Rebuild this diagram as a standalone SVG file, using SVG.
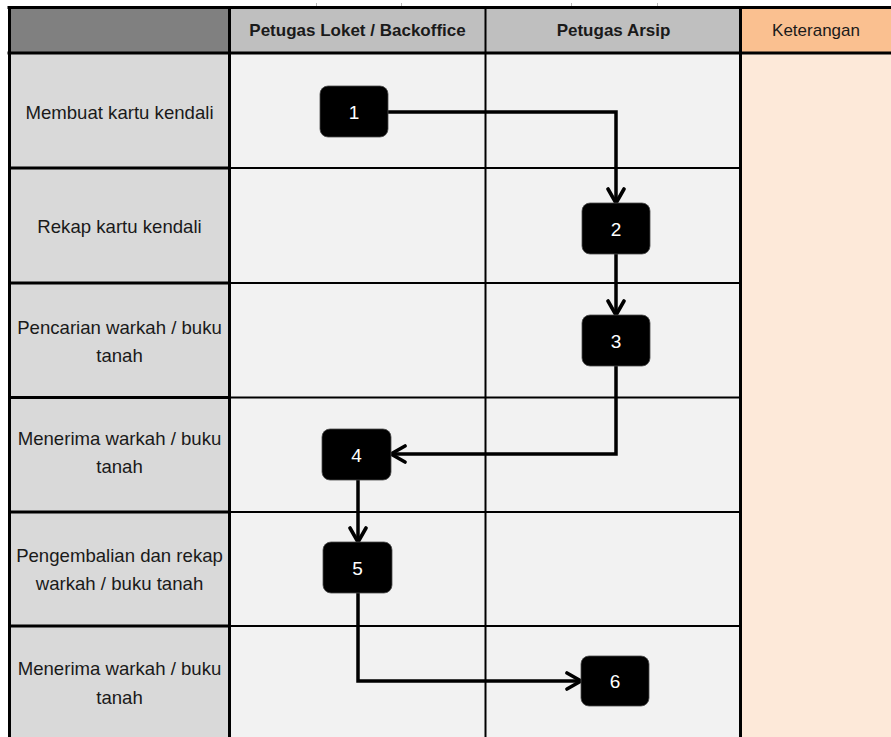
<svg xmlns="http://www.w3.org/2000/svg" width="891" height="737" viewBox="0 0 891 737">
  <style>
    .lbl { font-family: "Liberation Sans", Arial, sans-serif; font-size: 18.6px; fill: #1a1a1a; text-anchor: middle; }
    .hdr { font-family: "Liberation Sans", Arial, sans-serif; font-size: 17px; fill: #1a1a1a; text-anchor: middle; }
    .hdr-b { font-weight: bold; }
    .step rect { fill: #000; stroke: #4a4a4a; stroke-width: 0.8; }
    .step text { font-family: "Liberation Sans", Arial, sans-serif; font-size: 19px; fill: #fff; text-anchor: middle; }
    .thick { stroke: #000; stroke-width: 3; fill: none; }
    .thin { stroke: #000; stroke-width: 2; fill: none; }
    .tick { stroke: #bbb; stroke-width: 1; }
    .flow { stroke: #000; stroke-width: 3.5; fill: none; stroke-linejoin: miter; }
  </style>
  <defs>
    <marker id="chev" viewBox="0 0 20 20" refX="16" refY="10" markerWidth="20" markerHeight="20" markerUnits="userSpaceOnUse" orient="auto">
      <path d="M2,2 L16,10 L2,18" fill="none" stroke="#000" stroke-width="3.6" stroke-linecap="round" stroke-linejoin="miter"/>
    </marker>
  </defs>

  <rect width="891" height="737" fill="#fff"/>

  <!-- header row -->
  <g id="header">
    <rect x="9" y="7" width="221" height="46" fill="#808080"/>
    <rect x="230" y="7" width="256" height="46" fill="#bfbfbf"/>
    <rect x="486" y="7" width="255" height="46" fill="#bfbfbf"/>
    <rect x="741" y="7" width="150" height="46" fill="#fac090"/>
    <text class="hdr hdr-b" x="357.5" y="36">Petugas Loket / Backoffice</text>
    <text class="hdr hdr-b" x="613.5" y="36">Petugas Arsip</text>
    <text class="hdr" x="816" y="36" font-size="17.5">Keterangan</text>
  </g>

  <!-- body columns -->
  <g id="body">
    <rect x="9" y="53" width="221" height="684" fill="#d9d9d9"/>
    <rect x="230" y="53" width="511" height="684" fill="#f2f2f2"/>
    <rect x="741" y="53" width="150" height="684" fill="#fde9d9"/>
  </g>

  <!-- grid lines -->
  <g id="grid">
    <line class="tick" x1="316.5" y1="3" x2="316.5" y2="7"/>
    <line class="tick" x1="401.5" y1="3" x2="401.5" y2="7"/>
    <line class="tick" x1="571.5" y1="3" x2="571.5" y2="7"/>
    <line class="tick" x1="657.5" y1="3" x2="657.5" y2="7"/>

    <line class="thick" x1="7.5" y1="7.5" x2="891" y2="7.5"/>
    <line class="thick" x1="7.5" y1="53" x2="891" y2="53"/>
    <line class="thick" x1="9.5" y1="6" x2="9.5" y2="737"/>
    <line class="thick" x1="229.5" y1="6" x2="229.5" y2="737"/>
    <line class="thin" x1="485.5" y1="6" x2="485.5" y2="737"/>
    <line class="thick" x1="740.5" y1="6" x2="740.5" y2="737"/>

    <!-- row separators: heavy in the label column, light across the lanes -->
    <line class="thick" x1="9" y1="168" x2="230" y2="168"/>
    <line class="thin" x1="230" y1="168" x2="740" y2="168"/>
    <line class="thick" x1="9" y1="283" x2="230" y2="283"/>
    <line class="thin" x1="230" y1="283" x2="740" y2="283"/>
    <line class="thick" x1="9" y1="397.5" x2="230" y2="397.5"/>
    <line class="thin" x1="230" y1="397.5" x2="740" y2="397.5"/>
    <line class="thick" x1="9" y1="512" x2="230" y2="512"/>
    <line class="thin" x1="230" y1="512" x2="740" y2="512"/>
    <line class="thick" x1="9" y1="626" x2="230" y2="626"/>
    <line class="thin" x1="230" y1="626" x2="740" y2="626"/>
  </g>

  <!-- activity labels -->
  <g id="labels">
    <text class="lbl" x="119.5" y="119">Membuat kartu kendali</text>
    <text class="lbl" x="119.5" y="233">Rekap kartu kendali</text>
    <text class="lbl" x="119.5" y="334">Pencarian warkah / buku</text>
    <text class="lbl" x="119.5" y="362">tanah</text>
    <text class="lbl" x="119.5" y="445">Menerima warkah / buku</text>
    <text class="lbl" x="119.5" y="473">tanah</text>
    <text class="lbl" x="119.5" y="562">Pengembalian dan rekap</text>
    <text class="lbl" x="119.5" y="590">warkah / buku tanah</text>
    <text class="lbl" x="119.5" y="675">Menerima warkah / buku</text>
    <text class="lbl" x="119.5" y="704">tanah</text>
  </g>

  <!-- connectors -->
  <g id="connectors">
    <path class="flow" d="M388,112 H616 V203" marker-end="url(#chev)"/>
    <path class="flow" d="M616,254 V315" marker-end="url(#chev)"/>
    <path class="flow" d="M616,366 V454 H391" marker-end="url(#chev)"/>
    <path class="flow" d="M358,480 V542" marker-end="url(#chev)"/>
    <path class="flow" d="M358,593 V681 H581" marker-end="url(#chev)"/>
  </g>

  <!-- steps -->
  <g id="step1" class="step">
    <rect x="320" y="86" width="68" height="51" rx="8"/>
    <text x="354" y="119">1</text>
  </g>
  <g id="step2" class="step">
    <rect x="582" y="203" width="68" height="51" rx="8"/>
    <text x="616" y="236">2</text>
  </g>
  <g id="step3" class="step">
    <rect x="582" y="315" width="68" height="51" rx="8"/>
    <text x="616" y="348">3</text>
  </g>
  <g id="step4" class="step">
    <rect x="322" y="429" width="69" height="51" rx="8"/>
    <text x="356.5" y="462">4</text>
  </g>
  <g id="step5" class="step">
    <rect x="323" y="542" width="69" height="51" rx="8"/>
    <text x="357.5" y="575">5</text>
  </g>
  <g id="step6" class="step">
    <rect x="581" y="656" width="68" height="50" rx="8"/>
    <text x="615" y="688">6</text>
  </g>
</svg>
